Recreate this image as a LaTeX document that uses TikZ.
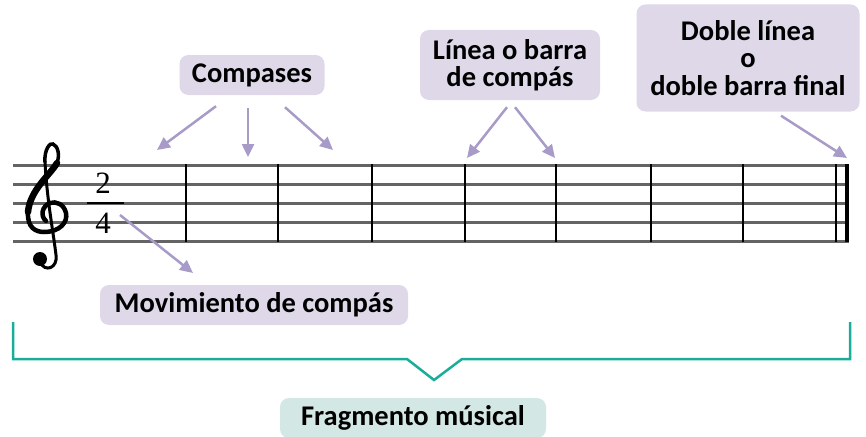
\documentclass[tikz,border=0pt]{standalone}
\usepackage{fontspec}
\setmainfont{Carlito}
\newfontfamily\cifrafont{Liberation Serif}
\usetikzlibrary{arrows.meta}

\definecolor{lila}{RGB}{222,216,233}
\definecolor{lilaflecha}{RGB}{168,155,200}
\definecolor{verdeazul}{RGB}{26,174,154}
\definecolor{verdeclaro}{RGB}{211,232,228}
\definecolor{gris}{RGB}{100,100,100}

\tikzset{
  etiqueta/.style={fill=lila,rounded corners=9pt,align=center,
    font=\bfseries\fontsize{28.5}{27.5}\selectfont,inner sep=0pt},
  flecha/.style={lilaflecha,line width=2.5pt,-{Triangle[length=13pt,width=12pt]}},
  barra/.style={line width=2.3pt},
  cifra/.style={font=\cifrafont\fontsize{31}{31}\selectfont}
}

\begin{document}
\begin{tikzpicture}[x=1pt,y=-1pt]
\useasboundingbox (0,0) rectangle (866,436);

% pentagrama
\foreach \y in {165,184,203,222,241}
  \draw[gris,line width=3pt] (13,\y) -- (849,\y);
\foreach \x in {186,278,372,465,556,651,743,836}
  \draw[barra] (\x,164) -- (\x,242);
\draw[line width=4.5pt] (847,164) -- (847,242);

% clave de sol
\begin{scope}[line cap=round]
\draw[line width=3pt] (45,162) .. controls (47,200) and (53,230) .. (56,255)
  .. controls (58,268) and (45,273) .. (40,262);
\fill (40,259) circle (7);
\draw[line width=3.5pt] (45,162) .. controls (44,150) and (50,142) .. (53,144)
  .. controls (58,146) and (60,155) .. (57,163);
\draw[line width=6.5pt] (57,163) .. controls (50,175) and (30,190) .. (28,212);
\draw[line width=4.5pt] (28,212) .. controls (27,228) and (36,232) .. (44,232)
  .. controls (60,232) and (68,222) .. (66,213)
  .. controls (64,204) and (56,201) .. (50,203)
  .. controls (42,206) and (40,216) .. (46,221);
\end{scope}

% cifra de compas
\node[cifra] (num) at (103,183) {2};
\node[cifra] (den) at (103,223) {4};
\draw[line width=1.8pt] (87,203) -- (124,203);

% etiquetas
\node[etiqueta,minimum width=145pt,minimum height=40pt] (compases) at (252,75) {Compases};
\node[etiqueta,minimum width=180pt,minimum height=70pt] (linea) at (510,65) {Línea o barra\\de compás};
\node[etiqueta,minimum width=223pt,minimum height=107pt] (doble) at (748,58) {Doble línea\\o\\doble barra final};
\node[etiqueta,minimum width=308pt,minimum height=40pt] (movimiento) at (254,305) {Movimiento de compás};
\node[etiqueta,fill=verdeclaro,minimum width=266pt,minimum height=40pt] (fragmento) at (413,418) {Fragmento músical};

% puntas de flecha
\coordinate (c1) at (157,150);
\coordinate (c2) at (248,157);
\coordinate (c3) at (333,150);
\coordinate (l1) at (467,158);
\coordinate (l2) at (555,158);
\coordinate (d1) at (847,158);
\coordinate (m0) at (120,215);
\coordinate (m1) at (193,273);

\draw[flecha] ([xshift=-36pt,yshift=-11pt]compases.south) -- (c1);
\draw[flecha] ([xshift=-4pt,yshift=-13pt]compases.south) -- (c2);
\draw[flecha] ([xshift=33pt,yshift=-12pt]compases.south) -- (c3);
\draw[flecha] ([xshift=-3pt,yshift=-7pt]linea.south) -- (l1);
\draw[flecha] ([xshift=5pt,yshift=-7pt]linea.south) -- (l2);
\draw[flecha] ([xshift=33pt,yshift=-4pt]doble.south) -- (d1);
\draw[flecha] (m0) -- (m1);

% llave del fragmento
\draw[verdeazul,line width=2.5pt] (13,322) -- (13,359) -- (407,359) -- (434,380)
  -- (462,359) -- (850,359) -- (850,322);
\end{tikzpicture}
\end{document}
